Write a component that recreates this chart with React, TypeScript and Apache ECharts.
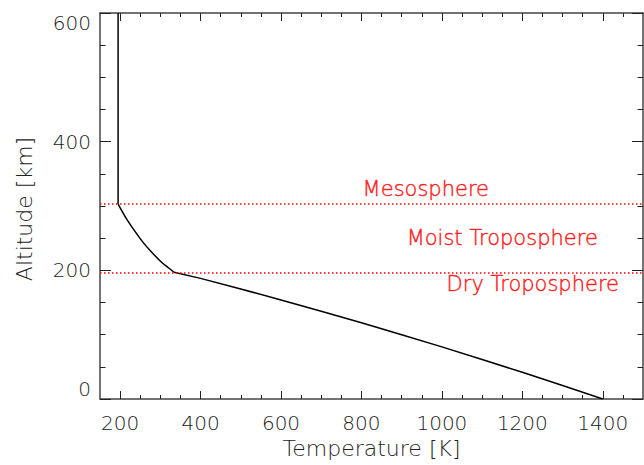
import React, { useEffect, useRef } from "react";
import * as echarts from "echarts";

// Temperature profile (T [K], altitude [km])
const dryTroposphere: [number, number][] = [
  [1400, 0], [1300, 21], [1200, 41.5], [1100, 61.5], [1000, 81], [900, 100],
  [800, 118.5], [700, 136.5], [600, 154], [500, 171], [400, 187.5], [334, 197],
];
const moistTroposphere: [number, number][] = [
  [334, 197], [320, 204], [299, 215], [278, 228.5], [257, 243.5], [237, 260.5], [216, 280], [195, 303],
];
const mesosphere: [number, number][] = [
  [195, 303], [195, 600],
];
const layerBoundaries = [197, 303];
const layerLabels = ["Mesosphere", "Moist Troposphere", "Dry Troposphere"];
const layerLabelPos: [number, number][] = [[960, 326], [1150, 250], [1226, 178]];

const xMajorTicks = [200, 400, 600, 800, 1000, 1200, 1400];
const xMinorTicks = [250, 300, 350, 450, 500, 550, 650, 700, 750, 850, 900, 950, 1050, 1100, 1150, 1250, 1300, 1350, 1450];
const yTickLabels = [0, 200, 400, 600];

const FONT = "DejaVu Sans";
const AXIS = "#444";
const TEXT = "#222";

export default function App() {
  const ref = useRef<HTMLDivElement>(null);
  useEffect(() => {
    if (!ref.current) return;
    const chart = echarts.init(ref.current, null, { renderer: "svg" });
    const baseX = {
      type: "value" as const,
      min: 150,
      max: 1500,
      splitLine: { show: false },
      gridIndex: 0,
    };
    const baseY = {
      type: "value" as const,
      min: 0,
      max: 600,
      interval: 200,
      splitLine: { show: false },
    };
    const plain = (v: number) => String(v);
    const lineSeries = (data: [number, number][], smooth: number | boolean) => ({
      type: "line" as const,
      xAxisIndex: 0,
      yAxisIndex: 0,
      data,
      smooth,
      showSymbol: false,
      symbol: "none",
      lineStyle: { color: "#000", width: 1.5 },
      z: 3,
    });
    chart.setOption({
      animation: false,
      backgroundColor: "#fff",
      grid: { left: 100, top: 13, width: 543, height: 386, containLabel: false },
      graphic: [
        {
          type: "text",
          x: 24,
          y: 209,
          rotation: Math.PI / 2,
          style: {
            text: "Altitude [km]",
            fill: TEXT,
            fontFamily: FONT,
            fontSize: 22,
            fontWeight: 200,
            align: "center",
            verticalAlign: "middle",
          },
        },
      ],
      xAxis: [
        {
          ...baseX,
          position: "bottom",
          axisLine: { show: true, lineStyle: { color: AXIS, width: 1.5 } },
          axisTick: { show: true, inside: true, length: 8, customValues: xMajorTicks, lineStyle: { color: TEXT, width: 1 } },
          axisLabel: {
            show: true, customValues: xMajorTicks, margin: 14, formatter: plain,
            color: TEXT, fontFamily: FONT, fontSize: 20, fontWeight: 200,
          },
          name: "Temperature [K]",
          nameLocation: "middle",
          nameGap: 33,
          nameTextStyle: { color: TEXT, fontFamily: FONT, fontSize: 22, fontWeight: 200 },
        },
        {
          ...baseX,
          position: "bottom",
          axisLine: { show: false },
          axisTick: { show: true, inside: true, length: 4, customValues: xMinorTicks, lineStyle: { color: TEXT, width: 1 } },
          axisLabel: { show: false },
        },
        {
          ...baseX,
          position: "top",
          axisLine: { show: true, lineStyle: { color: AXIS, width: 1.5 } },
          axisTick: { show: true, inside: true, length: 8, customValues: xMajorTicks, lineStyle: { color: TEXT, width: 1 } },
          axisLabel: { show: false },
        },
        {
          ...baseX,
          position: "top",
          axisLine: { show: false },
          axisTick: { show: true, inside: true, length: 4, customValues: xMinorTicks, lineStyle: { color: TEXT, width: 1 } },
          axisLabel: { show: false },
        },
      ],
      yAxis: [
        {
          ...baseY,
          position: "left",
          axisLine: { show: true, lineStyle: { color: AXIS, width: 1.5 } },
          axisTick: { show: true, inside: true, length: 11, lineStyle: { color: TEXT, width: 1 } },
          minorTick: { show: true, splitNumber: 4, length: 5.5, lineStyle: { color: TEXT, width: 1 } },
          axisLabel: {
            show: true, margin: 9, customValues: yTickLabels, formatter: plain,
            color: TEXT, fontFamily: FONT, fontSize: 20, fontWeight: 200,
            verticalAlignMinLabel: "bottom", verticalAlignMaxLabel: "top",
          },
        },
        {
          ...baseY,
          position: "right",
          axisLine: { show: true, lineStyle: { color: AXIS, width: 1.5 } },
          axisTick: { show: true, inside: true, length: 11, lineStyle: { color: TEXT, width: 1 } },
          minorTick: { show: true, splitNumber: 4, length: 5.5, lineStyle: { color: TEXT, width: 1 } },
          axisLabel: { show: false },
        },
      ],
      series: [
        {
          ...lineSeries(dryTroposphere, false),
          markLine: {
            silent: true,
            symbol: "none",
            label: { show: false },
            lineStyle: { color: "#ff0000", width: 1.5, type: [1.5, 2.5], cap: "butt" },
            data: layerBoundaries.map((v) => ({ yAxis: v })),
          },
        },
        lineSeries(moistTroposphere, 0.3),
        lineSeries(mesosphere, false),
        {
          type: "scatter",
          xAxisIndex: 0,
          yAxisIndex: 0,
          symbolSize: 0,
          silent: true,
          data: layerLabels.map((name, i) => ({ name, value: layerLabelPos[i] })),
          label: {
            show: true,
            position: "inside",
            formatter: (p: any) => p.name,
            color: "#ff0000",
            fontFamily: FONT,
            fontSize: 21,
            fontWeight: 200,
            textBorderColor: "#ff0000",
            textBorderWidth: 0.5,
          },
        },
      ],
    });
    return () => chart.dispose();
  }, []);
  return (
    <div
      ref={ref}
      style={{ position: "fixed", left: 0, top: 0, width: 644, height: 465, background: "#fff" }}
    />
  );
}
